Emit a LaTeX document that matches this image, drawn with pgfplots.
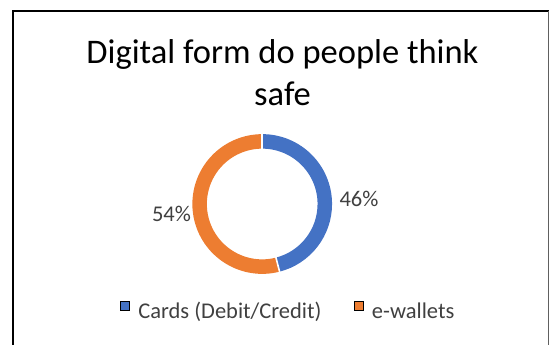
\documentclass[border=0pt]{standalone}
\usepackage{pgfplots}
\usepackage{pgfplotstable}
\pgfplotsset{compat=1.18}
\usepackage{fontspec}
\setmainfont{Carlito}

\definecolor{cardblue}{HTML}{4472C4}
\definecolor{walletorange}{HTML}{ED7D31}
\definecolor{labelgray}{HTML}{404040}

% share of respondents (percent)
\pgfplotstableread{
share
46
54
}\safetable

\begin{document}
\begin{tikzpicture}[x=1pt,y=1pt]
\useasboundingbox (0,0) rectangle (551,-345);

% frame
\draw[black, line width=2.2pt] (13.2,-346) -- (13.2,-10.8) -- (548.5,-10.8);
\draw[gray!75!black, line width=1.1pt] (548.5,-10.8) -- (548.5,-346);

% title
\node[anchor=base, font=\fontsize{34.5}{40}\selectfont, text=black] at (282.5,-63.3) {Digital form do people think};
\node[anchor=base, font=\fontsize{34.5}{40}\selectfont, text=black] at (282.5,-105) {safe};

\pgfplotstablegetelem{0}{share}\of\safetable \let\cardshare\pgfplotsretval
\pgfplotstablegetelem{1}{share}\of\safetable \let\walletshare\pgfplotsretval
\pgfmathsetmacro\splitangle{90-3.6*\cardshare}
\pgfmathsetmacro\wallend{\splitangle-3.6*\walletshare}

\begin{axis}[
  at={(262.2pt,-204pt)}, anchor=center,
  x=1pt, y=1pt,
  xmin=-80, xmax=80, ymin=-80, ymax=80,
  hide axis, clip=false,
  legend columns=2,
  legend image code/.code={\fill[#1] (0pt,1pt) rectangle (9pt,10pt);},
  legend style={
    at={(0.6575,-0.168)}, anchor=center,
    draw=none, fill=none, inner sep=0pt, outer sep=0pt,
    font=\fontsize{22.5}{27}\selectfont, text=labelgray,
    nodes={inner sep=0pt},
    /tikz/every odd column/.style={column sep=8.5pt},
    /tikz/every even column/.style={column sep=32.5pt},
  },
]
% ring segments, drawn as thick arcs at the ring's mid radius
\draw[cardblue, line width=14.5pt]
  (axis cs:{62.6*cos(90)},{62.6*sin(90)}) arc[start angle=90, end angle=\splitangle, radius=62.6pt];
\draw[walletorange, line width=14.5pt]
  (axis cs:{62.6*cos(\splitangle)},{62.6*sin(\splitangle)}) arc[start angle=\splitangle, end angle=\wallend, radius=62.6pt];
% white separators between segments
\draw[white, line width=1.6pt] (axis cs:{54*cos(90)},{54*sin(90)}) -- (axis cs:{71.5*cos(90)},{71.5*sin(90)});
\draw[white, line width=1.6pt] (axis cs:{54*cos(\splitangle)},{54*sin(\splitangle)}) -- (axis cs:{71.5*cos(\splitangle)},{71.5*sin(\splitangle)});

% data labels
\node[anchor=base, font=\fontsize{22.5}{27}\selectfont, text=labelgray] at (axis cs:96.8,-2) {\cardshare\%};
\node[anchor=base, font=\fontsize{22.5}{27}\selectfont, text=labelgray] at (axis cs:-90.7,-17.7) {\walletshare\%};

\addlegendimage{fill=cardblue}
\addlegendentry{Cards (Debit/Credit)}
\addlegendimage{fill=walletorange}
\addlegendentry{e-wallets}
\end{axis}
\end{tikzpicture}
\end{document}
